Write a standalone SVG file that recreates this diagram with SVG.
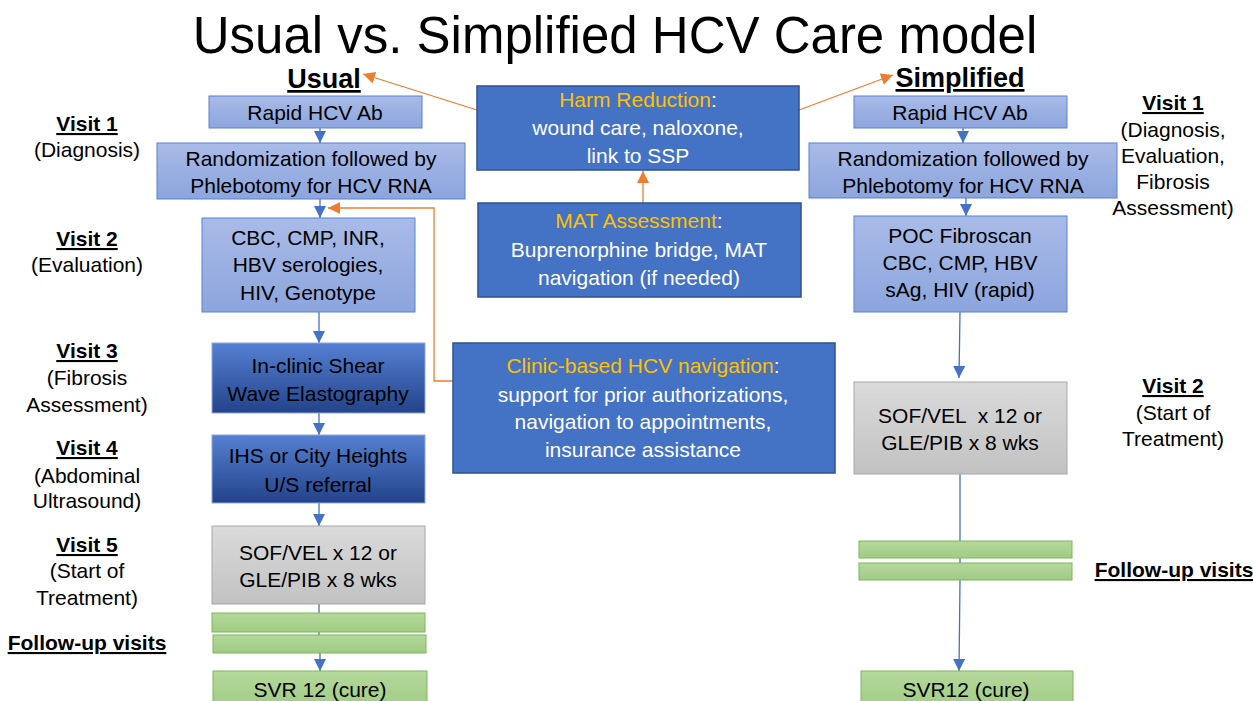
<svg xmlns="http://www.w3.org/2000/svg" width="1253" height="701" viewBox="0 0 1253 701">
<defs>
<linearGradient id="gLight" x1="0" y1="0" x2="0" y2="1"><stop offset="0" stop-color="#A9BBE8"/><stop offset="1" stop-color="#8CA5DD"/></linearGradient>
<linearGradient id="gDark" x1="0" y1="0" x2="0" y2="1"><stop offset="0" stop-color="#5580D2"/><stop offset="1" stop-color="#23438A"/></linearGradient>
<linearGradient id="gGray" x1="0" y1="0" x2="0" y2="1"><stop offset="0" stop-color="#DADADA"/><stop offset="1" stop-color="#C2C2C2"/></linearGradient>
<linearGradient id="gGreen" x1="0" y1="0" x2="0" y2="1"><stop offset="0" stop-color="#B5D99C"/><stop offset="1" stop-color="#9FCB83"/></linearGradient>
<marker id="aBlue" viewBox="0 0 10 10" refX="10" refY="5" markerWidth="12" markerHeight="12" markerUnits="userSpaceOnUse" orient="auto"><path d="M0,0 L10,5 L0,10 z" fill="#4472C4"/></marker>
<marker id="aOrange" viewBox="0 0 10 10" refX="10" refY="5" markerWidth="12" markerHeight="12" markerUnits="userSpaceOnUse" orient="auto"><path d="M0,0 L10,5 L0,10 z" fill="#ED7D31"/></marker>
</defs>
<style>
text{font-family:"Liberation Sans",Arial,sans-serif;fill:#000;text-anchor:middle}
.t{font-size:21px}
.hd{font-size:27px;font-weight:bold;text-decoration:underline}
.lb{font-size:21px}
.lbb{font-size:21px;font-weight:bold;text-decoration:underline}
.w{fill:#fff;font-size:21px}
.gold{fill:#FFC000}
.light{fill:url(#gLight);stroke:#5B82CF;stroke-width:1}
.dark{fill:url(#gDark);stroke:#8FA7DC;stroke-width:1}
.gray{fill:url(#gGray);stroke:#A8A8A8;stroke-width:1}
.green{fill:url(#gGreen);stroke:#7DB85A;stroke-width:1}
.mid{fill:#4472C4;stroke:#2F528F;stroke-width:1.5}
.cb{stroke:#4472C4;stroke-width:1.3;fill:none}
.co{stroke:#ED7D31;stroke-width:1.3;fill:none}
</style>
<rect width="1253" height="701" fill="#fff"/>
<text x="615" y="53" style="font-size:51px">Usual vs. Simplified HCV Care model</text>

<g id="connectors">
<line class="cb" x1="320" y1="128" x2="320" y2="143" marker-end="url(#aBlue)"/>
<line class="cb" x1="320" y1="199" x2="320" y2="218" marker-end="url(#aBlue)"/>
<line class="cb" x1="319" y1="312" x2="319" y2="343" marker-end="url(#aBlue)"/>
<line class="cb" x1="319" y1="413" x2="319" y2="435" marker-end="url(#aBlue)"/>
<line class="cb" x1="319" y1="503" x2="319" y2="526" marker-end="url(#aBlue)"/>
<line class="cb" x1="319" y1="604" x2="319" y2="613"/>
<line class="cb" x1="319" y1="632" x2="319" y2="635"/>
<line class="cb" x1="320" y1="653" x2="320" y2="671" marker-end="url(#aBlue)"/>
<line class="cb" x1="963" y1="128" x2="963" y2="143" marker-end="url(#aBlue)"/>
<line class="cb" x1="966" y1="198" x2="966" y2="216" marker-end="url(#aBlue)"/>
<line class="cb" x1="960" y1="312" x2="959" y2="378" marker-end="url(#aBlue)"/>
<line class="cb" x1="960" y1="474" x2="960" y2="541"/>
<line class="cb" x1="960" y1="558" x2="960" y2="563"/>
<line class="cb" x1="960" y1="580" x2="959" y2="671" marker-end="url(#aBlue)"/>
<line class="co" x1="477" y1="110" x2="363" y2="74" marker-end="url(#aOrange)"/>
<line class="co" x1="799" y1="110" x2="893" y2="75" marker-end="url(#aOrange)"/>
<line class="co" x1="643" y1="203" x2="643" y2="171" marker-end="url(#aOrange)"/>
<polyline class="co" points="538,381 434,381 434,208 328,208" marker-end="url(#aOrange)"/>
</g>

<g id="usual-head"><text class="hd" x="324" y="88">Usual</text></g>
<g id="simplified-head"><text class="hd" x="960" y="87">Simplified</text></g>

<g id="u-rapid"><rect class="light" x="209" y="96" width="213" height="32"/><text class="t" x="315" y="120">Rapid HCV Ab</text></g>
<g id="u-random"><rect class="light" x="157" y="143" width="308" height="56"/><text class="t" x="311" y="166">Randomization followed by</text><text class="t" x="311" y="193">Phlebotomy for HCV RNA</text></g>
<g id="u-cbc"><rect class="light" x="202" y="218" width="213" height="94"/><text class="t" x="308" y="245">CBC, CMP, INR,</text><text class="t" x="308" y="272">HBV serologies,</text><text class="t" x="308" y="300">HIV, Genotype</text></g>
<g id="u-shear"><rect class="dark" x="212" y="343" width="213" height="70"/><text class="t" x="318" y="373">In-clinic Shear</text><text class="t" x="318" y="401">Wave Elastography</text></g>
<g id="u-ihs"><rect class="dark" x="212" y="435" width="213" height="68"/><text class="t" x="318" y="463">IHS or City Heights</text><text class="t" x="318" y="492">U/S referral</text></g>
<g id="u-sof"><rect class="gray" x="212" y="526" width="213" height="78"/><text class="t" x="318" y="560">SOF/VEL x 12 or</text><text class="t" x="318" y="587">GLE/PIB x 8 wks</text></g>
<g id="u-fu1"><rect class="green" x="212" y="613" width="213" height="19"/></g>
<g id="u-fu2"><rect class="green" x="213" y="635" width="213" height="18"/></g>
<g id="u-svr"><rect class="green" x="213" y="671" width="214" height="40"/><text class="t" x="320" y="697">SVR 12 (cure)</text></g>

<g id="harm"><rect class="mid" x="477" y="86" width="322" height="84"/><text class="w" x="638" y="107"><tspan class="gold">Harm Reduction</tspan>:</text><text class="w" x="638" y="135">wound care, naloxone,</text><text class="w" x="638" y="163">link to SSP</text></g>
<g id="mat"><rect class="mid" x="478" y="203" width="323" height="94"/><text class="w" x="639" y="228"><tspan class="gold">MAT Assessment</tspan>:</text><text class="w" x="639" y="257">Buprenorphine bridge, MAT</text><text class="w" x="639" y="285">navigation (if needed)</text></g>
<g id="clinic"><rect class="mid" x="453" y="343" width="382" height="130"/><text class="w" x="643" y="373"><tspan class="gold">Clinic-based HCV navigation</tspan>:</text><text class="w" x="643" y="402">support for prior authorizations,</text><text class="w" x="643" y="429">navigation to appointments,</text><text class="w" x="643" y="457">insurance assistance</text></g>

<g id="s-rapid"><rect class="light" x="854" y="96" width="213" height="32"/><text class="t" x="960" y="120">Rapid HCV Ab</text></g>
<g id="s-random"><rect class="light" x="809" y="143" width="308" height="55"/><text class="t" x="963" y="166">Randomization followed by</text><text class="t" x="963" y="193">Phlebotomy for HCV RNA</text></g>
<g id="s-poc"><rect class="light" x="854" y="216" width="213" height="96"/><text class="t" x="960" y="243">POC Fibroscan</text><text class="t" x="960" y="270">CBC, CMP, HBV</text><text class="t" x="960" y="297">sAg, HIV (rapid)</text></g>
<g id="s-sof"><rect class="gray" x="854" y="382" width="213" height="92"/><text class="t" x="960" y="423" xml:space="preserve">SOF/VEL  x 12 or</text><text class="t" x="960" y="450">GLE/PIB x 8 wks</text></g>
<g id="s-fu1"><rect class="green" x="859" y="541" width="213" height="17"/></g>
<g id="s-fu2"><rect class="green" x="859" y="563" width="213" height="17"/></g>
<g id="s-svr"><rect class="green" x="861" y="671" width="212" height="40"/><text class="t" x="966" y="697">SVR12 (cure)</text></g>

<g id="left-labels">
<text class="lbb" x="87" y="131">Visit 1</text><text class="lb" x="87" y="157">(Diagnosis)</text>
<text class="lbb" x="87" y="246">Visit 2</text><text class="lb" x="87" y="272">(Evaluation)</text>
<text class="lbb" x="87" y="358">Visit 3</text><text class="lb" x="87" y="385">(Fibrosis</text><text class="lb" x="87" y="412">Assessment)</text>
<text class="lbb" x="87" y="455">Visit 4</text><text class="lb" x="87" y="483">(Abdominal</text><text class="lb" x="87" y="508">Ultrasound)</text>
<text class="lbb" x="87" y="552">Visit 5</text><text class="lb" x="87" y="578">(Start of</text><text class="lb" x="87" y="605">Treatment)</text>
<text class="lbb" x="87" y="650">Follow-up visits</text>
</g>
<g id="right-labels">
<text class="lbb" x="1173" y="110">Visit 1</text><text class="lb" x="1173" y="137">(Diagnosis,</text><text class="lb" x="1173" y="163">Evaluation,</text><text class="lb" x="1173" y="189">Fibrosis</text><text class="lb" x="1173" y="215">Assessment)</text>
<text class="lbb" x="1173" y="393">Visit 2</text><text class="lb" x="1173" y="420">(Start of</text><text class="lb" x="1173" y="446">Treatment)</text>
<text class="lbb" x="1174" y="577">Follow-up visits</text>
</g>
</svg>
